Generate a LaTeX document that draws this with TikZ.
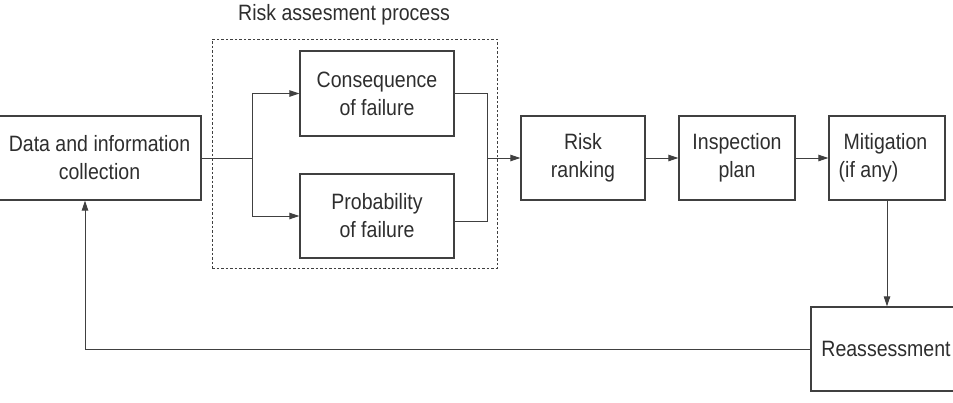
\documentclass[tikz,border=0pt]{standalone}
\usepackage{fontspec}
\setmainfont{Liberation Sans}[FakeStretch=0.88]
\usetikzlibrary{arrows.meta}
\definecolor{txt}{HTML}{2E2E2E}
\definecolor{ln}{HTML}{404040}
\begin{document}
\begin{tikzpicture}[x=1pt,y=-1pt,
  lbl/.style={text=txt, font=\fontsize{22.2}{28}\selectfont},
  box/.style={lbl, draw=ln, line width=1.3pt, align=center, inner sep=0pt, minimum height=84pt},
  conn/.style={draw=ln, line width=1pt},
  arr/.style={conn, -{Triangle[length=10pt,width=6.5pt]}}]
\useasboundingbox (0,0) rectangle (953,402);
% group
\node[draw=ln, dash pattern=on 2.5pt off 2pt, line width=1pt, minimum width=285pt, minimum height=229pt, inner sep=0pt] (grp) at (354.5,153.5) {};
\node[lbl] (title) at (344,15) {Risk assesment process};
% boxes
\node[box, minimum width=203pt] (data) at (99.5,158) {Data and information\\collection};
\node[box, minimum width=154pt, minimum height=85pt] (cons) at (377,93.5) {Consequence\\of failure};
\node[box, minimum width=154pt] (prob) at (377,216) {Probability\\of failure};
\node[box, minimum width=124pt] (risk) at (583,158) {Risk\\ranking};
\node[box, minimum width=116pt] (insp) at (737,158) {Inspection\\plan};
\node[box, minimum width=116pt, align=left] (mitig) at (887,158) {\hspace*{5pt}Mitigation\hspace*{8pt}\\(if any)};
\node[box, minimum width=150pt] (reass) at (886,349) {Reassessment};
% connectors
\coordinate (split) at (252,158);
\coordinate (join) at (487,158);
\draw[conn] (data.east) -- (split);
\draw[arr] (split) |- (cons.west);
\draw[arr] (split) |- (prob.west);
\draw[conn] (cons.east) -| (join);
\draw[conn] ([yshift=-5pt]prob.east) -| (join);
\draw[arr] (join) -- (risk.west);
\draw[arr] (risk.east) -- (insp.west);
\draw[arr] (insp.east) -- (mitig.west);
\draw[arr] (mitig.south) -- (mitig.south |- reass.north);
\draw[arr] (reass.west) -| ([xshift=-14.5pt]data.south);
\end{tikzpicture}
\end{document}
